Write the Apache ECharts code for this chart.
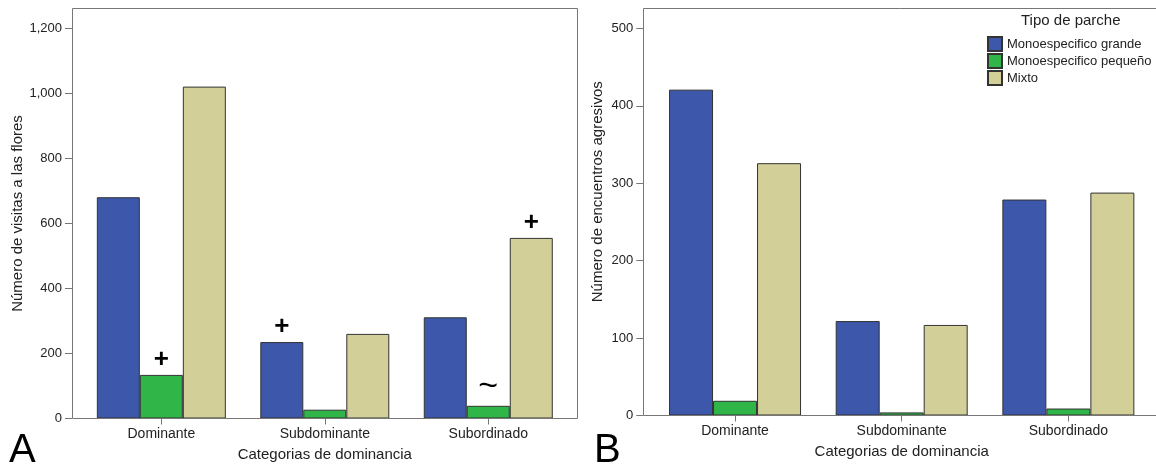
<!DOCTYPE html>
<html>
<head>
<meta charset="utf-8">
<script src="https://cdn.jsdelivr.net/npm/echarts@6/dist/echarts.min.js"></script>
<style>
html,body{margin:0;padding:0;background:#fff;}
#chart{width:1156px;height:469px;}
</style>
</head>
<body>
<div id="chart"></div>
<script>
// ---- data ----
const categories = ['Dominante', 'Subdominante', 'Subordinado'];
const seriesNames = ['Monoespecifico grande', 'Monoespecifico pequeño', 'Mixto'];
const seriesColors = ['#3d57aa', '#2fb548', '#d3cf99'];

// Panel A: Número de visitas a las flores
const visitasGrande = [680, 235, 311];
const visitasPequeno = [134, 27, 39];
const visitasMixto = [1020, 260, 555];
// significance marks drawn above bars in panel A
const marcasGrande = ['', '+', ''];
const marcasPequeno = ['+', '', '~'];
const marcasMixto = ['', '', '+'];

// Panel B: Número de encuentros agresivos
const encuentrosGrande = [421, 122, 279];
const encuentrosPequeno = [19, 4, 9];
const encuentrosMixto = [326, 117, 288];

const FONT = '"Liberation Sans", Arial, sans-serif';
const AXIS_GREY = '#777';

const chart = echarts.init(document.getElementById('chart'), null, {renderer: 'canvas'});

function fmt(v) {
  return String(v).replace(/\B(?=(\d{3})+(?!\d))/g, ',');
}

function xAxisFor(gridIndex) {
  return {
    type: 'category', gridIndex: gridIndex, data: categories,
    name: 'Categorias de dominancia', nameLocation: 'middle', nameGap: 29,
    nameTextStyle: {fontFamily: FONT, fontSize: 15, color: '#222'},
    axisLine: {show: false},
    axisTick: {show: true, alignWithLabel: true, length: 6, lineStyle: {color: AXIS_GREY}},
    axisLabel: {fontFamily: FONT, fontSize: 14, color: '#222', margin: 9},
    splitLine: {show: false}
  };
}

function yAxisFor(gridIndex, name, max, interval, offset, nameGap, namePad) {
  return {
    type: 'value', gridIndex: gridIndex, min: 0, max: max, interval: interval,
    offset: offset,
    name: name, nameLocation: 'middle', nameGap: nameGap,
    nameTextStyle: {fontFamily: FONT, fontSize: 15, color: '#222', padding: namePad},
    axisLine: {show: false},
    axisTick: {show: true, length: 7, lineStyle: {color: AXIS_GREY}},
    axisLabel: {
      fontFamily: FONT, fontSize: 13, color: '#222', margin: 10,
      showMaxLabel: false,
      formatter: function (v) { return (v % interval === 0) ? fmt(v) : ''; }
    },
    splitLine: {show: false}
  };
}

function barSeries(name, idx, gridIndex, data, marks, barWidth) {
  const s = {
    type: 'bar', name: name,
    xAxisIndex: gridIndex, yAxisIndex: gridIndex,
    data: data, barWidth: barWidth, barGap: '0%',
    itemStyle: {color: seriesColors[idx], borderColor: '#333', borderWidth: 1},
    emphasis: {disabled: true},
    z: 3
  };
  if (marks) {
    s.label = {
      show: true, position: 'top', distance: 2,
      fontFamily: FONT, fontSize: 26, fontWeight: 'bold', color: '#000',
      formatter: function (p) {
        const m = marks[p.dataIndex];
        return m === '~' ? '{t|~}' : m;
      },
      rich: {t: {fontFamily: FONT, fontSize: 34, fontWeight: 'normal', color: '#000'}}
    };
  }
  return s;
}

const option = {
  animation: false,
  backgroundColor: '#fff',
  grid: [
    {left: 79.6, top: 8.5, width: 490.4, height: 410, containLabel: false},
    {left: 651.7, top: 8, width: 500, height: 407.5, containLabel: false}
  ],
  xAxis: [xAxisFor(0), xAxisFor(1)],
  yAxis: [
    yAxisFor(0, 'Número de visitas a las flores', 1260, 200, 7.6, 47, [0, 0, 0, 0]),
    yAxisFor(1, 'Número de encuentros agresivos', 526.5, 100, 8.4, 38, [0, 0, 0, 40])
  ],
  legend: {
    orient: 'vertical', left: 987, top: 36, padding: 0,
    itemWidth: 14, itemHeight: 14, itemGap: 1,
    icon: 'rect',
    data: seriesNames,
    textStyle: {fontFamily: FONT, fontSize: 13, color: '#222'},
    selectedMode: false
  },
  title: {
    text: 'Tipo de parche', left: 1021, top: 13, padding: 0,
    textStyle: {fontFamily: FONT, fontSize: 15, fontWeight: 'normal', color: '#222'}
  },
  graphic: [
    {type: 'rect', shape: {x: 72.5, y: 8.5, width: 505, height: 410}, style: {fill: null, stroke: AXIS_GREY, lineWidth: 1}, z: 10, silent: true},
    {type: 'rect', shape: {x: 643.5, y: 8.5, width: 540, height: 407}, style: {fill: null, stroke: AXIS_GREY, lineWidth: 1}, z: 10, silent: true},
    {type: 'text', left: 9, top: 431, style: {text: 'A', font: '40px ' + FONT, fill: '#000'}, silent: true},
    {type: 'text', left: 594, top: 431, style: {text: 'B', font: '40px ' + FONT, fill: '#000'}, silent: true}
  ],
  series: [
    barSeries(seriesNames[0], 0, 0, visitasGrande, marcasGrande, 43),
    barSeries(seriesNames[1], 1, 0, visitasPequeno, marcasPequeno, 43),
    barSeries(seriesNames[2], 2, 0, visitasMixto, marcasMixto, 43),
    barSeries(seriesNames[0], 0, 1, encuentrosGrande, null, 44),
    barSeries(seriesNames[1], 1, 1, encuentrosPequeno, null, 44),
    barSeries(seriesNames[2], 2, 1, encuentrosMixto, null, 44)
  ]
};

chart.setOption(option);
</script>
</body>
</html>
